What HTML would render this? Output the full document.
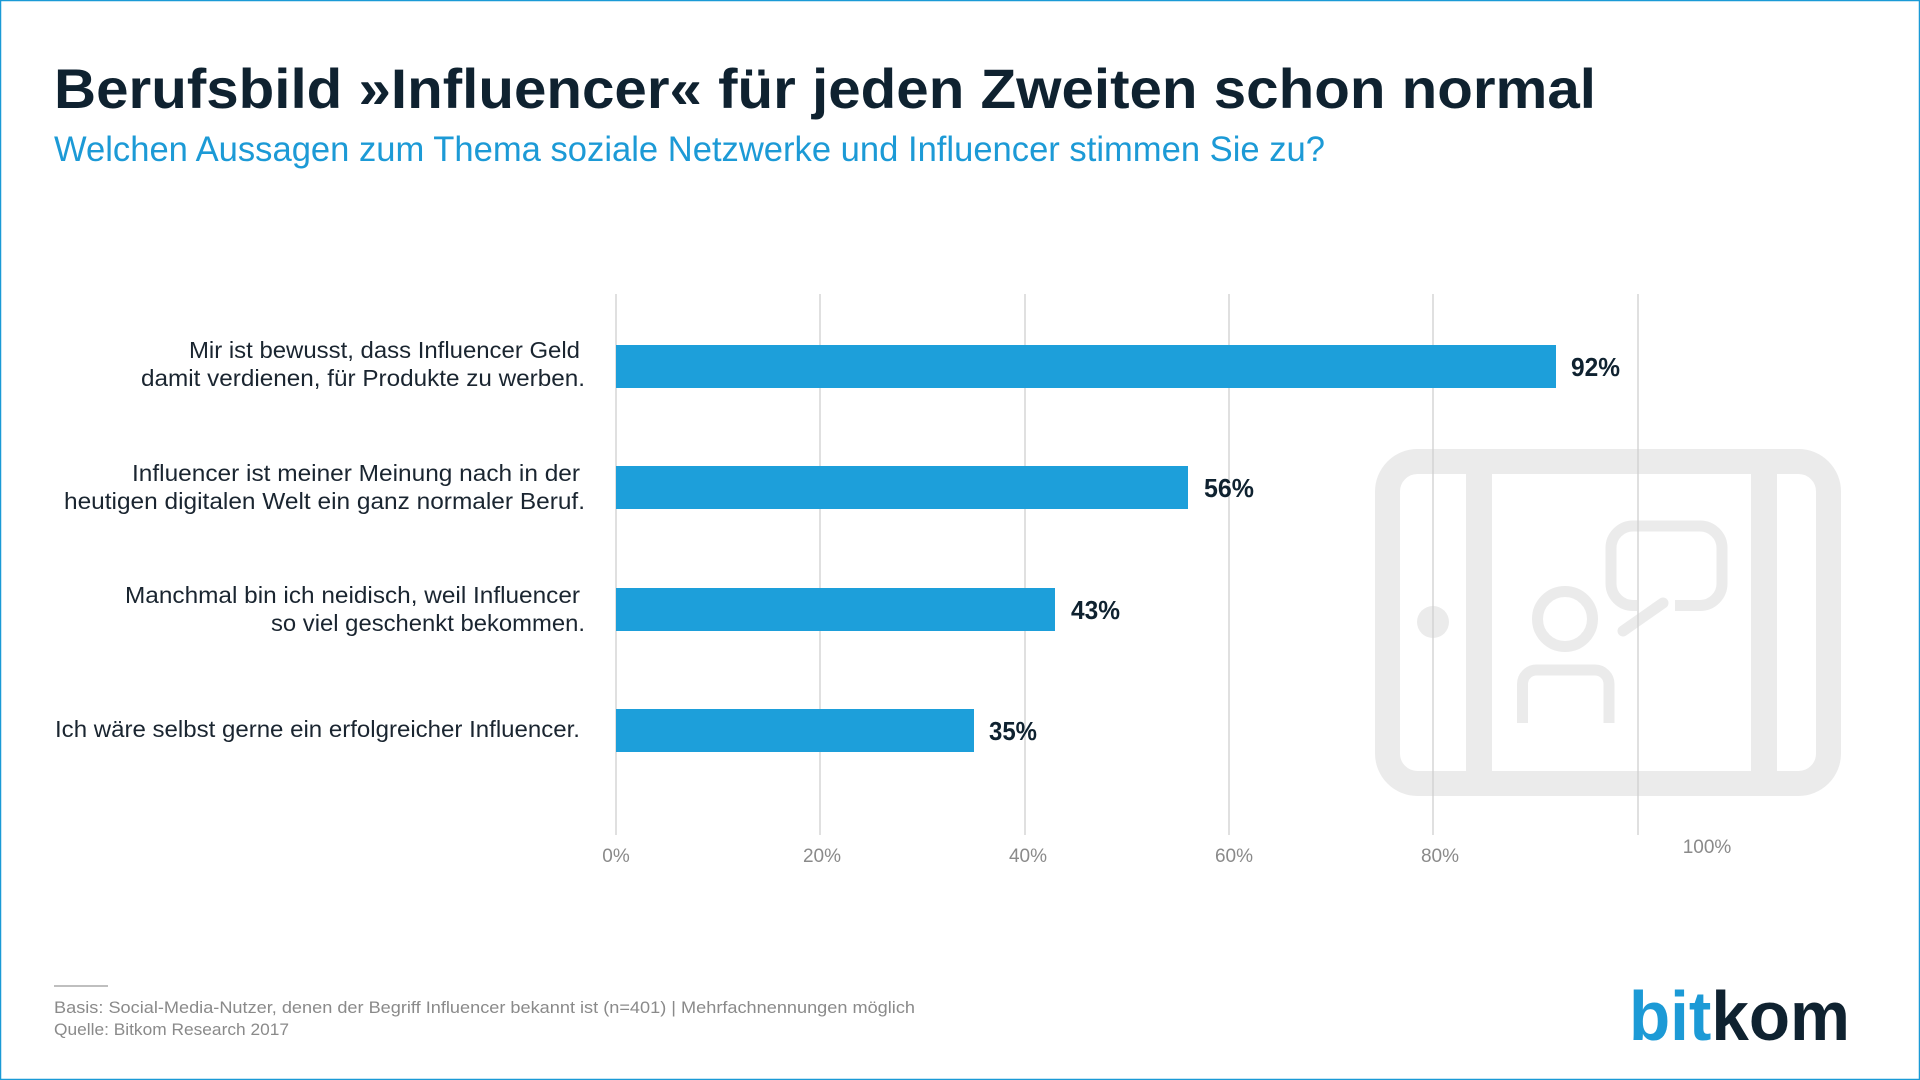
<!DOCTYPE html>
<html><head><meta charset="utf-8"><style>
html,body{margin:0;padding:0;background:#fff}
svg{display:block}
text{font-family:"Liberation Sans",sans-serif}
</style></head><body>
<svg width="1920" height="1080" viewBox="0 0 1920 1080" xmlns="http://www.w3.org/2000/svg">
<rect x="0.5" y="0.5" width="1919" height="1079" fill="#fff" stroke="#1a9ad6" stroke-width="1.5"/>
<text x="54" y="108" font-size="56" font-weight="bold" fill="#0f2230" textLength="1542" lengthAdjust="spacingAndGlyphs">Berufsbild »Influencer« für jeden Zweiten schon normal</text>
<text x="54" y="161" font-size="35" fill="#1c9ad6" textLength="1271" lengthAdjust="spacingAndGlyphs">Welchen Aussagen zum Thema soziale Netzwerke und Influencer stimmen Sie zu?</text>
<!-- tablet icon -->
<g fill="none" stroke="#ebebeb">
<rect x="1387.5" y="461.5" width="441" height="322" rx="30" stroke-width="25"/>
<line x1="1479" y1="461" x2="1479" y2="784" stroke-width="26"/>
<line x1="1764" y1="461" x2="1764" y2="784" stroke-width="26"/>
<circle cx="1565" cy="619" r="27.5" stroke-width="11"/>
<path d="M1522.5 723 V684 a14 14 0 0 1 14 -14 H1595 a14 14 0 0 1 14 14 V723" stroke-width="11"/>
<path d="M1637 605.5 H1633 a22 22 0 0 1 -22 -22 V548 a22 22 0 0 1 22 -22 H1700 a22 22 0 0 1 22 22 V583.5 a22 22 0 0 1 -22 22 H1675" stroke-width="11"/>
<path d="M1663 603 L1623 631" stroke-width="11" stroke-linecap="round"/>
</g>
<circle cx="1433" cy="622" r="16" fill="#ebebeb"/>
<!-- grid -->
<g stroke="#cfcfcf" stroke-width="1.3">
<line x1="616" y1="294" x2="616" y2="835"/>
<line x1="820" y1="294" x2="820" y2="835"/>
<line x1="1025" y1="294" x2="1025" y2="835"/>
<line x1="1229" y1="294" x2="1229" y2="835"/>
<line x1="1433" y1="294" x2="1433" y2="835"/>
<line x1="1638" y1="294" x2="1638" y2="835"/>
</g>
<!-- bars -->
<g fill="#1d9fda">
<rect x="616" y="345" width="940" height="43"/>
<rect x="616" y="466" width="572" height="43"/>
<rect x="616" y="588" width="439" height="43"/>
<rect x="616" y="709" width="358" height="43"/>
</g>
<g font-size="26" font-weight="bold" fill="#0f2230">
<text x="1571" y="376" textLength="49" lengthAdjust="spacingAndGlyphs">92%</text>
<text x="1204" y="497" textLength="50" lengthAdjust="spacingAndGlyphs">56%</text>
<text x="1071" y="619" textLength="49" lengthAdjust="spacingAndGlyphs">43%</text>
<text x="989" y="740" textLength="48" lengthAdjust="spacingAndGlyphs">35%</text>
</g>
<g font-size="23" fill="#1a2530">
<text x="189" y="358" textLength="391" lengthAdjust="spacingAndGlyphs">Mir ist bewusst, dass Influencer Geld</text>
<text x="141" y="386" textLength="444" lengthAdjust="spacingAndGlyphs">damit verdienen, für Produkte zu werben.</text>
<text x="132" y="481" textLength="448" lengthAdjust="spacingAndGlyphs">Influencer ist meiner Meinung nach in der</text>
<text x="64" y="509" textLength="521" lengthAdjust="spacingAndGlyphs">heutigen digitalen Welt ein ganz normaler Beruf.</text>
<text x="125" y="603" textLength="455" lengthAdjust="spacingAndGlyphs">Manchmal bin ich neidisch, weil Influencer</text>
<text x="271" y="631" textLength="314" lengthAdjust="spacingAndGlyphs">so viel geschenkt bekommen.</text>
<text x="55" y="737" textLength="525" lengthAdjust="spacingAndGlyphs">Ich wäre selbst gerne ein erfolgreicher Influencer.</text>
</g>
<g font-size="19" fill="#8a8a8a" text-anchor="middle">
<text x="616" y="862">0%</text>
<text x="822" y="862">20%</text>
<text x="1028" y="862">40%</text>
<text x="1234" y="862">60%</text>
<text x="1440" y="862">80%</text>
<text x="1707" y="853">100%</text>
</g>
<line x1="54" y1="986" x2="108" y2="986" stroke="#999" stroke-width="1.3"/>
<g font-size="17" fill="#8a8a8a">
<text x="54" y="1013" textLength="861" lengthAdjust="spacingAndGlyphs">Basis: Social-Media-Nutzer, denen der Begriff Influencer bekannt ist (n=401) | Mehrfachnennungen möglich</text>
<text x="54" y="1035" textLength="235" lengthAdjust="spacingAndGlyphs">Quelle: Bitkom Research 2017</text>
</g>
<text x="1629" y="1040" font-size="70" font-weight="bold" textLength="221" lengthAdjust="spacingAndGlyphs"><tspan fill="#1c9ad6">bit</tspan><tspan fill="#0f2230">kom</tspan></text>
</svg>
</body></html>
